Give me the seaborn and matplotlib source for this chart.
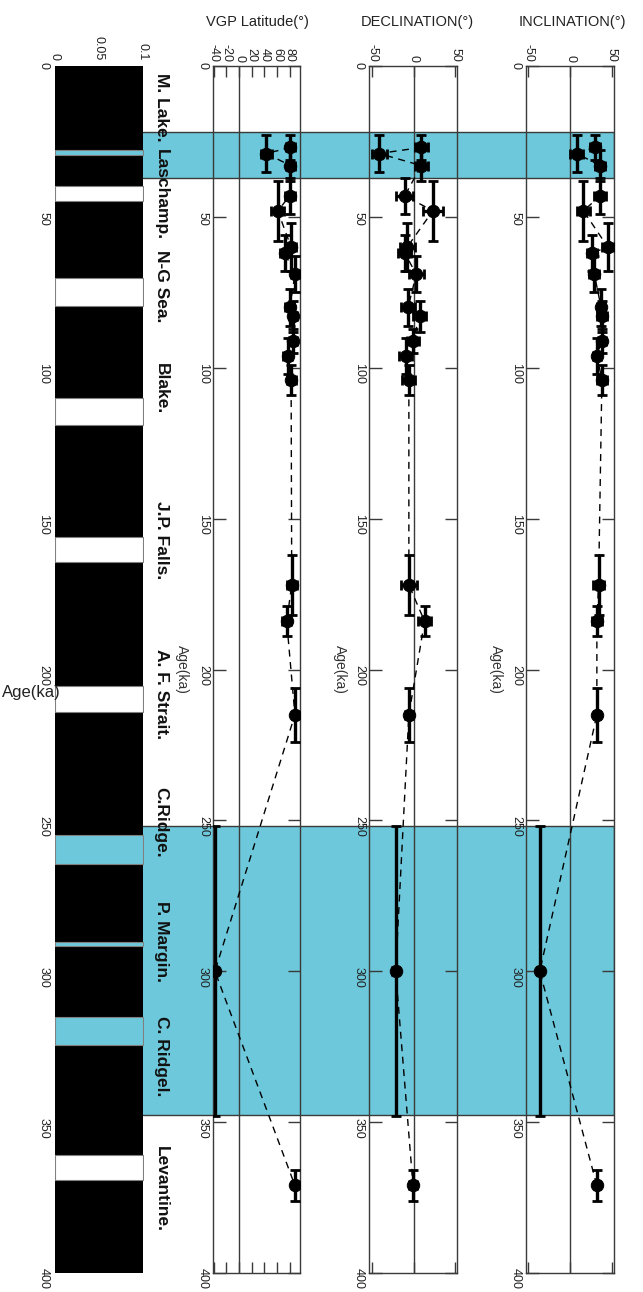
import matplotlib
matplotlib.use('Agg')
import matplotlib.pyplot as plt
import matplotlib.transforms as mtransforms
import seaborn as sns

sns.set_style('white')
plt.rcParams['font.family'] = ['Liberation Sans', 'DejaVu Sans']
plt.rcParams['axes.unicode_minus'] = False

# ============================================================
# DATA
# ============================================================
age = [27, 29, 33, 43, 48, 60, 62, 69, 80, 83, 91, 96, 104, 172, 184, 215, 300, 371]
age_err = [4, 6, 5, 6, 10, 8, 6, 6, 6, 5, 4, 6, 5, 10, 5, 9, 48, 5]

inclination = [30, 8, 36, 36, 16, 45, 26, 29, 37, 38, 38, 32, 38, 34, 32, 32, -36, 32]
inc_err = [6, 8, 6, 7, 8, 7, 6, 6, 5, 6, 5, 5, 6, 7, 6, 4, 3, 4]

declination = [9, -42, 9, -11, 23, -8, -11, 3, -7, 7, -1, -10, -6, -6, 13, -6, -22, -1]
dec_err = [8, 9, 8, 10, 12, 9, 8, 9, 8, 8, 7, 8, 8, 10, 8, 5, 4, 5]

vgp_lat = [81, 43, 81, 80, 61, 82, 72, 88, 80, 85, 85, 77, 82, 83, 75, 88, -38, 88]
vgp_err = [7, 9, 7, 8, 10, 7, 8, 6, 7, 7, 6, 7, 7, 8, 7, 5, 4, 4]

# excursion windows highlighted across the panels (ka)
shade_ranges = [(22, 37), (252, 347.5)]

# gaps in the polarity column (ka)
polarity_bands = [(28.0, 29.6), (39.8, 44.6), (70.2, 79.4), (110.0, 119.0),
                  (156.1, 164.4), (205.5, 214.1), (254.9, 264.3),
                  (290.2, 291.7), (315.1, 324.5), (360.9, 369.2)]

excursion_names = ['M. Lake.', 'Laschamp.', 'N-G Sea.', 'Blake.', 'J.P. Falls.',
                   'A. F. Strait.', 'C.Ridge.', 'P. Margin.', 'C. Ridgel.', 'Levantine.']
excursion_pos = [13.6, 42.5, 73, 107, 157, 208, 250.5, 290, 328, 372]

age_ticks = list(range(0, 401, 50))

# ============================================================
# LAYOUT (pixel boxes in a 643 x 1292 canvas)
# ============================================================
W, H = 643, 1292
SHADE = '#6cc8da'
LINE = '#3a3a3a'


def box(x0, x1, y0=66, y1=1273):
    return [x0 / W, (H - y1) / H, (x1 - x0) / W, (y1 - y0) / H]


fig = plt.figure(figsize=(W / 100, H / 100), dpi=100)

# background shading that runs through every column
bg = fig.add_axes(box(57, 614), zorder=0)
bg.set_xlim(0, 1)
bg.set_ylim(400, 0)
bg.axis('off')
for lo, hi in shade_ranges:
    bg.axhspan(lo, hi, facecolor=SHADE, edgecolor=LINE, lw=1)

# ============================================================
# POLARITY COLUMN
# ============================================================
axp = fig.add_axes(box(55, 143), zorder=1)
axp.set_facecolor('none')
axp.fill_betweenx([0, 400], 0, 0.1, color='black', lw=0)
for lo, hi in polarity_bands:
    inside = any(lo >= a and hi <= b for a, b in shade_ranges)
    axp.fill_betweenx([lo, hi], 0.0, 0.1, facecolor=SHADE if inside else 'white',
                      edgecolor='#808080', lw=0.8)
axp.set_xlim(0, 0.1)
axp.set_ylim(400, 0)
axp.set_xticks([0, 0.05, 0.1])
axp.set_xticklabels(['0', '0.05', '0.1'])
axp.set_yticks(age_ticks)
axp.xaxis.tick_top()
axp.tick_params(axis='x', length=0, labelsize=9, labelrotation=270, pad=4, colors='#222')
axp.tick_params(axis='y', length=0, labelsize=9, labelrotation=270, pad=4, colors='#222')
for s in axp.spines.values():
    s.set_visible(False)

# ============================================================
# DATA PANELS
# ============================================================
panels = [
    (vgp_lat, vgp_err, box(213, 300), (-41, 96), [-40, -20, 0, 20, 40, 60, 80],
     'VGP Latitude(°)', 257, -0.36),
    (declination, dec_err, box(369, 457), (-54.2, 52.2), [-50, 0, 50],
     'DECLINATION(°)', 417, -0.33),
    (inclination, inc_err, box(526, 614), (-52.4, 52.4), [-50, 0, 50],
     'INCLINATION(°)', 572, -0.34),
]

for vals, verr, pos, xlim, xticks, title, title_x, lab_x in panels:
    ax = fig.add_axes(pos, zorder=2)
    ax.set_facecolor('none')
    ax.axvline(0, color=LINE, lw=1, zorder=1)

    ax.errorbar(vals, age, xerr=verr, yerr=age_err, fmt='none', ecolor='black',
                elinewidth=2.4, capsize=3.5, capthick=2, zorder=3)
    sns.lineplot(x=vals, y=age, sort=False, estimator=None, orient='y', ax=ax,
                 color='black', lw=1, linestyle=(0, (5, 4)), zorder=2)
    sns.scatterplot(x=vals, y=age, ax=ax, color='black', s=80,
                    edgecolor='black', zorder=4)

    ax.set_xlim(*xlim)
    ax.set_ylim(400, 0)
    ax.set_xticks(xticks)
    ax.set_yticks(age_ticks)
    ax.xaxis.tick_top()
    ax.tick_params(axis='x', top=True, bottom=True, direction='in', length=8,
                   width=1, labelsize=9, labelrotation=270, pad=3,
                   color=LINE, labelcolor='#222')
    ax.tick_params(axis='y', left=True, right=True, direction='in', length=9,
                   width=1, labelsize=9, labelrotation=270, pad=3,
                   color=LINE, labelcolor='#222')
    ax.set_xlabel('')
    ax.set_ylabel('Age(ka)', rotation=270, fontsize=10, color='#333',
                  va='center', ha='center')
    ax.yaxis.set_label_coords(lab_x, 0.5)
    for s in ax.spines.values():
        s.set_color(LINE)
        s.set_linewidth(1)

    fig.text(title_x / W, 1 - 22 / H, title, ha='center', va='center',
             fontsize=10.5, color='#222')

# excursion names in the gap next to the polarity column
trans = mtransforms.blended_transform_factory(fig.transFigure, bg.transData)
for name, a in zip(excursion_names, excursion_pos):
    fig.text(161 / W, a, name, transform=trans, rotation=270, ha='center',
             va='center', fontsize=12.5, fontweight='bold', color='#111')

fig.text(2 / W, 1 - 692 / H, 'Age(ka)', ha='left', va='center', fontsize=12,
         color='#222')

plt.savefig('out.png', dpi=100)
plt.close()
